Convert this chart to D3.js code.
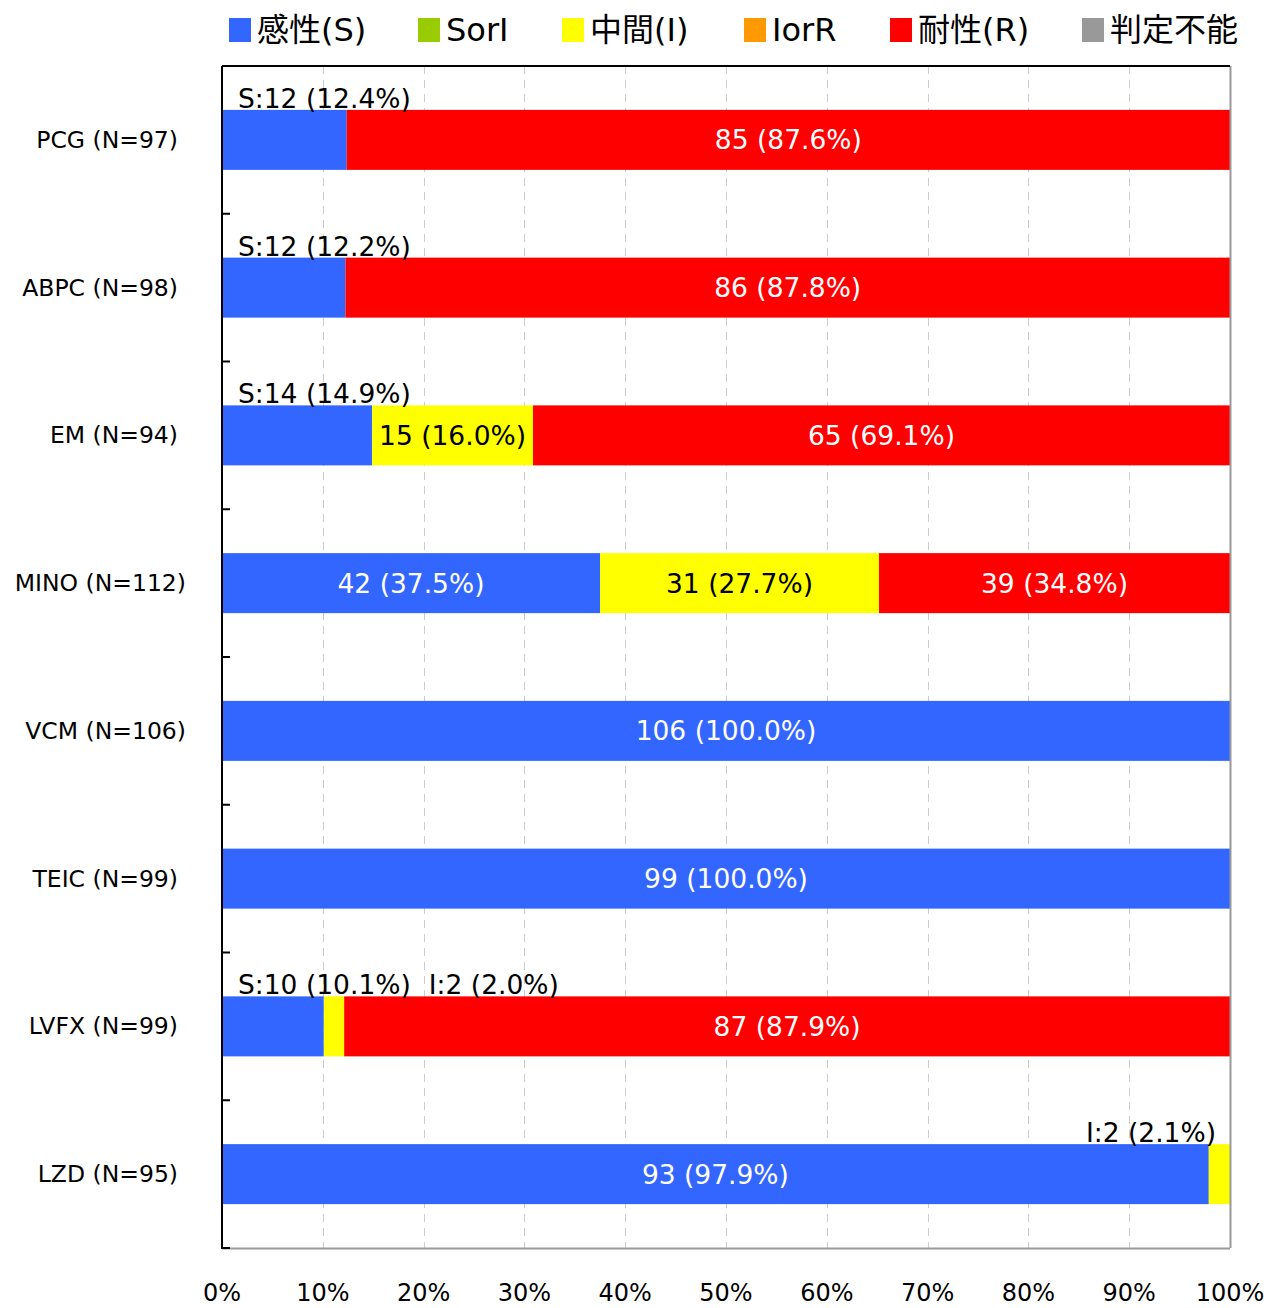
<!DOCTYPE html>
<html>
<head>
<meta charset="utf-8">
<script src="https://cdn.jsdelivr.net/npm/d3@7"></script>
<style>
  body { margin: 0; background: #fff; }
  svg text { font-family: "DejaVu Sans", "Noto Sans CJK JP", sans-serif; }
</style>
</head>
<body>
<div id="main"></div>
<script>
var drugs = ['PCG', 'ABPC', 'EM', 'MINO', 'VCM', 'TEIC', 'LVFX', 'LZD'];
var totals = [97, 98, 94, 112, 106, 99, 99, 95];
var seriesKeys = ['S', 'SorI', 'I', 'IorR', 'R', 'NA'];
var seriesNames = ['感性(S)', 'SorI', '中間(I)', 'IorR', '耐性(R)', '判定不能'];
var seriesColors = ['#3366ff', '#99cc00', '#ffff00', '#ff9900', '#ff0000', '#999999'];
var countS = [12, 12, 14, 42, 106, 99, 10, 93];
var countSorI = [0, 0, 0, 0, 0, 0, 0, 0];
var countI = [0, 0, 15, 31, 0, 0, 2, 2];
var countIorR = [0, 0, 0, 0, 0, 0, 0, 0];
var countR = [85, 86, 65, 39, 0, 0, 87, 0];
var countNA = [0, 0, 0, 0, 0, 0, 0, 0];
var tickValues = [0, 0.1, 0.2, 0.3, 0.4, 0.5, 0.6, 0.7, 0.8, 0.9, 1.0];

var W = 1270, H = 1308;
var m = {left: 222, right: 40, top: 66, bottom: 60};

var svg = d3.select('#main').append('svg').attr('width', W).attr('height', H);

var rows = drugs.map(function(d, i) {
  var counts = [countS[i], countSorI[i], countI[i], countIorR[i], countR[i], countNA[i]];
  var r = {drug: d, n: totals[i]};
  seriesKeys.forEach(function(k, j) { r[k] = counts[j]; r[k + '_p'] = counts[j] / totals[i]; });
  return r;
});

var x = d3.scaleLinear().domain([0, 1]).range([m.left, W - m.right]);
var y = d3.scaleBand().domain(drugs).range([m.top, H - m.bottom]).paddingInner(0).paddingOuter(0);
var barH = 60;

// grid
svg.append('g').selectAll('line').data(tickValues.slice(1, -1)).enter().append('line')
  .attr('x1', function(d) { return Math.round(x(d)) + 0.5; })
  .attr('x2', function(d) { return Math.round(x(d)) + 0.5; })
  .attr('y1', m.top).attr('y2', H - m.bottom)
  .attr('stroke', '#cccccc').attr('stroke-dasharray', '8,6');

var stack = d3.stack().keys(seriesKeys.map(function(k) { return k + '_p'; }));
var layers = stack(rows);

var g = svg.append('g');
layers.forEach(function(layer, li) {
  g.selectAll('rect.s' + li).data(layer).enter().append('rect')
    .attr('class', 's' + li)
    .attr('x', function(d) { return x(d[0]); })
    .attr('width', function(d) { return x(d[1]) - x(d[0]); })
    .attr('y', function(d) { return y(d.data.drug) + y.bandwidth() / 2 - barH / 2; })
    .attr('height', barH)
    .attr('fill', seriesColors[li]);
});

// labels
var short = {S: 'S', SorI: 'SorI', I: 'I', IorR: 'IorR', R: 'R', NA: '-'};
rows.forEach(function(r, ri) {
  var cy = y(r.drug) + y.bandwidth() / 2;
  var cursor = x(0) + 16;
  layers.forEach(function(layer, li) {
    var k = seriesKeys[li];
    var cnt = r[k];
    if (!cnt) return;
    var d = layer[ri];
    var pct = (cnt / r.n * 100).toFixed(1);
    var txt = cnt + ' (' + pct + '%)';
    var dark = (k === 'I' || k === 'SorI' || k === 'IorR');
    if (cnt / r.n >= 0.15) {
      g.append('text').attr('x', (x(d[0]) + x(d[1])) / 2).attr('y', cy)
        .attr('text-anchor', 'middle').attr('dominant-baseline', 'central')
        .attr('font-size', 26.5).attr('fill', dark ? '#000' : '#fff').text(txt);
    } else {
      var t = g.append('text').attr('y', cy - barH / 2 - 2)
        .attr('font-size', 26.5).attr('fill', '#000').text(short[k] + ':' + txt);
      if (d[1] > 0.999 && d[0] > 0.5) {
        t.attr('x', x(1) - 14).attr('text-anchor', 'end');
      } else {
        t.attr('x', cursor);
        cursor += t.node().getComputedTextLength() + 18;
      }
    }
  });
});

// frame
svg.append('line').attr('x1', m.left).attr('x2', W - m.right).attr('y1', H - m.bottom + 0.5).attr('y2', H - m.bottom + 0.5)
  .attr('stroke', '#999').attr('stroke-width', 2);
svg.append('line').attr('x1', W - m.right + 0.5).attr('x2', W - m.right + 0.5).attr('y1', m.top).attr('y2', H - m.bottom)
  .attr('stroke', '#999').attr('stroke-width', 2);
svg.append('line').attr('x1', m.left).attr('x2', W - m.right).attr('y1', m.top).attr('y2', m.top)
  .attr('stroke', '#000').attr('stroke-width', 2);

var yAxis = svg.append('g').attr('transform', 'translate(' + m.left + ',0)');
yAxis.append('line').attr('y1', m.top).attr('y2', H - m.bottom + 1).attr('stroke', '#000').attr('stroke-width', 2);
yAxis.selectAll('line.tk').data(drugs).enter().append('line').attr('class', 'tk')
  .attr('x1', 0).attr('x2', 8)
  .attr('y1', function(d) { return y(d) + y.bandwidth(); })
  .attr('y2', function(d) { return y(d) + y.bandwidth(); })
  .attr('stroke', '#000').attr('stroke-width', 2);
yAxis.selectAll('text').data(rows).enter().append('text')
  .attr('x', function(d) { return (d.n >= 100 ? 186 : 178) - m.left; })
  .attr('y', function(d) { return y(d.drug) + y.bandwidth() / 2; })
  .attr('text-anchor', 'end').attr('dominant-baseline', 'central')
  .attr('font-size', 23.5).attr('fill', '#000')
  .text(function(d) { return d.drug + ' (N=' + d.n + ')'; });

// x axis labels
svg.append('g').selectAll('text').data(tickValues).enter().append('text')
  .attr('x', function(d) { return x(d); })
  .attr('y', 1301)
  .attr('text-anchor', 'middle').attr('font-size', 24).attr('fill', '#000')
  .text(d3.format('.0%'));

// legend
var legX = [229, 418, 562, 744, 890, 1082];
var leg = svg.append('g');
seriesNames.forEach(function(name, i) {
  leg.append('rect').attr('x', legX[i]).attr('y', 18).attr('width', 22).attr('height', 24).attr('fill', seriesColors[i]);
  leg.append('text').attr('x', legX[i] + 28).attr('y', 30).attr('dominant-baseline', 'central')
    .attr('font-size', 32).attr('fill', '#000').text(name);
});
</script>
</body>
</html>
